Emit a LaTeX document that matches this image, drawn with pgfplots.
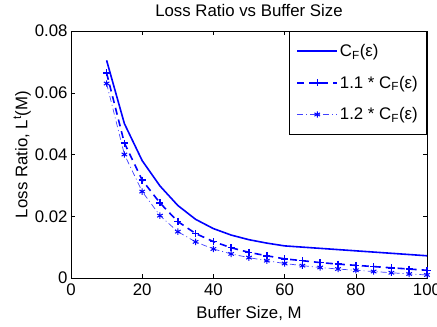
\documentclass[border=0pt]{standalone}
\usepackage{pgfplots}
\pgfplotsset{compat=1.18}
\usepackage{fontspec}
\setmainfont{Liberation Sans}
\usetikzlibrary{calc}
\definecolor{mblue}{RGB}{0,0,255}
\newcommand{\bigf}{\fontsize{16.8}{19}\selectfont}
\begin{document}
\begin{tikzpicture}[font=\bigf]
\begin{axis}[
  scale only axis,
  width=356pt, height=247pt,
  xmin=0, xmax=100, ymin=0, ymax=0.08,
  xtick={0,20,40,60,80,100},
  ytick={0,0.02,0.04,0.06,0.08},
  scaled y ticks=false,
  yticklabel style={/pgf/number format/fixed,/pgf/number format/precision=2},
  /pgf/number format/assume math mode=true,
  tick label style={font=\bigf},
  xticklabel style={yshift=-2pt},
  label style={font=\bigf},
  title style={font=\bigf, yshift=5pt},
  tick align=inside,
  major tick length=4pt,
  tick style={black, line width=0.5pt},
  axis line style={black, line width=0.6pt},
  title={Loss Ratio vs Buffer Size},
  xlabel={Buffer Size, M},
  ylabel={Loss Ratio, L\textsuperscript{t}(M)},
  xlabel style={yshift=-4pt},
  ylabel style={yshift=-3pt},
  legend style={at={(1,1)}, anchor=north east, draw=black, line width=0.6pt,
    legend cell align=left, row sep=14pt, inner xsep=7pt, inner ysep=11pt,
    font=\bigf},
  legend image code/.code={\draw[mark repeat=2,mark phase=2,#1] plot coordinates {(0cm,0cm) (0.7cm,0cm) (1.4cm,0cm)};},
]
\addplot[mblue, line width=1.6pt, solid] coordinates {
(10,0.0705)(15,0.050)(20,0.038)(25,0.0298)(30,0.0235)(35,0.019)(40,0.016)(45,0.0139)(50,0.0124)(55,0.0113)(60,0.0104)(65,0.0100)(70,0.0096)(75,0.0092)(80,0.0088)(85,0.0084)(90,0.0080)(95,0.0076)(100,0.0072)};
\addlegendentry{C\textsubscript{F}(ε)\hspace{8pt}}
\addplot[mblue, line width=1.6pt, dash pattern=on 7pt off 5pt, mark=+, mark size=3.5pt, mark options={solid, line width=1.5pt}] coordinates {
(10,0.0664)(15,0.0437)(20,0.0317)(25,0.0243)(30,0.0183)(35,0.0144)(40,0.0118)(45,0.0098)(50,0.0083)(55,0.0072)(60,0.0062)(65,0.0056)(70,0.0050)(75,0.0045)(80,0.0041)(85,0.0037)(90,0.0033)(95,0.0029)(100,0.0025)};
\addlegendentry{1.1 * C\textsubscript{F}(ε)\hspace{8pt}}
\addplot[mblue!75, line width=0.7pt, dash pattern=on 6pt off 3pt on 1pt off 3pt, mark=asterisk, mark size=3.2pt, mark options={solid, mblue, line width=1pt}] coordinates {
(10,0.0630)(15,0.0400)(20,0.0280)(25,0.0202)(30,0.0150)(35,0.0117)(40,0.0094)(45,0.0078)(50,0.0066)(55,0.0056)(60,0.0047)(65,0.0040)(70,0.0034)(75,0.0029)(80,0.0025)(85,0.0021)(90,0.0017)(95,0.0013)(100,0.0010)};
\addlegendentry{1.2 * C\textsubscript{F}(ε)\hspace{8pt}}
\end{axis}
\pgfresetboundingbox
\path ($(current axis.south west)+(-71pt,-49pt)$) rectangle ($(current axis.north east)+(10pt,31pt)$);
\end{tikzpicture}
\end{document}
